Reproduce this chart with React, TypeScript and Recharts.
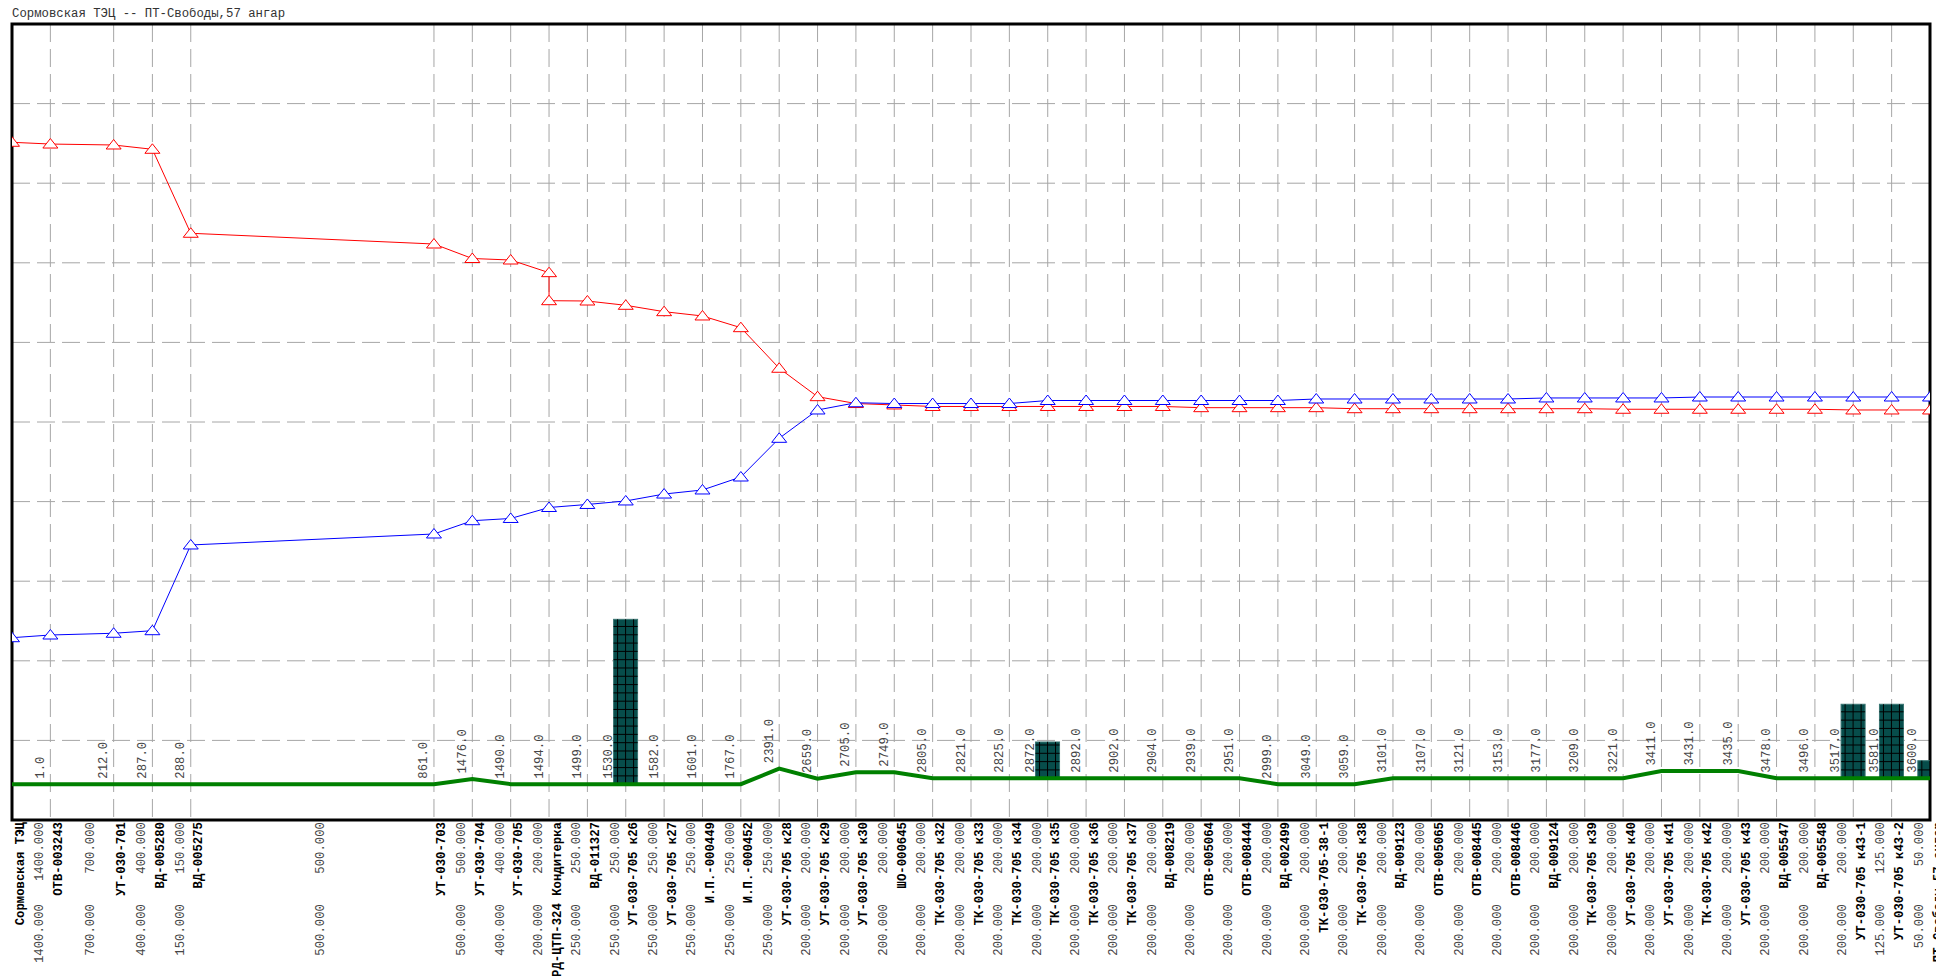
import React from 'react';
import { ComposedChart, Line, Bar, XAxis, YAxis, CartesianGrid, ReferenceArea, LabelList } from 'recharts';

const MONO = '"Liberation Mono", "DejaVu Sans Mono", monospace';
const FS = 12.3;

// узлы трассы (позиция на схеме, не в масштабе длины)
const nodeNames = [
  'Сормовская ТЭЦ', 'ОТВ-003243', 'УТ-030-701', 'ВД-005280', 'ВД-005275',
  'УТ-030-703', 'УТ-030-704', 'УТ-030-705', 'РД-ЦТП-324 Кондитерка', 'ВД-011327',
  'УТ-030-705 к26', 'УТ-030-705 к27', 'И.П.-000449', 'И.П.-000452', 'УТ-030-705 к28',
  'УТ-030-705 к29', 'УТ-030-705 к30', 'ШО-000645', 'ТК-030-705 к32', 'ТК-030-705 к33',
  'ТК-030-705 к34', 'ТК-030-705 к35', 'ТК-030-705 к36', 'ТК-030-705 к37', 'ВД-008219',
  'ОТВ-005064', 'ОТВ-008444', 'ВД-002499', 'ТК-030-705-38-1', 'ТК-030-705 к38',
  'ВД-009123', 'ОТВ-005065', 'ОТВ-008445', 'ОТВ-008446', 'ВД-009124',
  'ТК-030-705 к39', 'УТ-030-705 к40', 'УТ-030-705 к41', 'ТК-030-705 к42', 'УТ-030-705 к43',
  'ВД-005547', 'ВД-005548', 'УТ-030-705 к43-1', 'УТ-030-705 к43-2', 'ПТ-Свободы,57 ангар',
];

const nodePos = [
  0, 1, 2.65, 3.66, 4.66, 11, 12, 13, 14, 15,
  16, 17, 18, 19, 20, 21, 22, 23, 24, 25,
  26, 27, 28, 29, 30, 31, 32, 33, 34, 35,
  36, 37, 38, 39, 40, 41, 42, 43, 44, 45,
  46, 47, 48, 49, 50,
];

const nodeDist: (number | null)[] = [
  null, 1, 212, 287, 288, 861, 1476, 1490, 1494, 1499,
  1530, 1582, 1601, 1767, 2391, 2659, 2705, 2749, 2805, 2821,
  2825, 2872, 2892, 2902, 2904, 2939, 2951, 2999, 3049, 3059,
  3101, 3107, 3121, 3153, 3177, 3209, 3221, 3411, 3431, 3435,
  3478, 3496, 3517, 3581, 3600,
];

// диаметры участков (подача / обратка)
const diameters = [
  1400, 700, 400, 150, 500, 500, 400, 200, 250, 250,
  250, 250, 250, 250, 200, 200, 200, 200, 200, 200,
  200, 200, 200, 200, 200, 200, 200, 200, 200, 200,
  200, 200, 200, 200, 200, 200, 200, 200, 200, 200,
  200, 200, 125, 50,
];

const supplyHead = [
  85.14, 84.92, 84.8, 84.26, 73.71, 72.36, 70.54, 70.35, 68.76, 65.2,
  64.66, 63.86, 63.32, 61.85, 56.75, 53.18, 52.32, 52.14, 51.95, 51.95,
  51.95, 51.95, 51.95, 51.95, 51.95, 51.8, 51.8, 51.8, 51.8, 51.67,
  51.67, 51.67, 51.67, 51.67, 51.67, 51.67, 51.6, 51.6, 51.6, 51.6,
  51.6, 51.6, 51.51, 51.51, 51.51,
];
// дросселирование на регуляторе
const regulatorOut: Record<number, number> = { 8: 65.24 };

const returnHead = [
  22.9, 23.24, 23.46, 23.78, 34.55, 35.93, 37.6, 37.88, 39.26, 39.64,
  40.08, 40.95, 41.46, 43.09, 47.95, 51.51, 52.42, 52.32, 52.32, 52.32,
  52.32, 52.7, 52.7, 52.7, 52.7, 52.7, 52.7, 52.7, 52.89, 52.89,
  52.89, 52.89, 52.89, 52.89, 53.02, 53.02, 53.02, 53.02, 53.14, 53.14,
  53.14, 53.14, 53.14, 53.14, 53.14,
];

const ground = [
  4.5, 4.5, 4.5, 4.5, 4.5, 4.5, 5.15, 4.5, 4.5, 4.5,
  4.5, 4.5, 4.5, 4.5, 6.45, 5.2, 6.0, 6.0, 5.25, 5.25,
  5.25, 5.25, 5.25, 5.25, 5.25, 5.25, 5.25, 4.5, 4.5, 4.5,
  5.25, 5.25, 5.25, 5.25, 5.25, 5.25, 5.25, 6.15, 6.15, 6.15,
  5.25, 5.25, 5.25, 5.25, 5.25,
];

const buildingTop: (number | null)[] = [
  null, null, null, null, null, null, null, null, null, null,
  25.21, null, null, null, null, null, null, null, null, null,
  null, 9.8, null, null, null, null, null, null, null, null,
  null, null, null, null, null, null, null, null, null, null,
  null, null, 14.54, 14.54, 7.45,
];

const yTicks = [0, 10, 20, 30, 40, 50, 60, 70, 80, 90, 100];

const nodeRows = nodePos.map((x, i) => ({
  x,
  ground: ground[i],
  ret: returnHead[i],
  dist: nodeDist[i],
  bld: buildingTop[i] != null ? [ground[i], buildingTop[i]] : null,
}));

const supplyRows: { x: number; sup: number }[] = [];
nodePos.forEach((x, i) => {
  supplyRows.push({ x, sup: supplyHead[i] });
  if (regulatorOut[i] != null) supplyRows.push({ x, sup: regulatorOut[i] });
});

const segMid = diameters.map((_, i) => (nodePos[i] + nodePos[i + 1]) / 2);

const NodeTick = (props: any) => {
  const { x, y, payload } = props;
  const i = nodePos.indexOf(payload.value);
  if (i < 0) return null;
  return (
    <text transform={`translate(${x + 11.5},${y + 2}) rotate(-90)`} textAnchor="end"
      fontFamily={MONO} fontWeight="bold" fontSize={FS} fill="#000">
      {nodeNames[i]}
    </text>
  );
};

// вторая ось лежит на 1px ниже первой
const SegTick = (props: any) => {
  const { x, y, payload } = props;
  const i = segMid.indexOf(payload.value);
  if (i < 0) return null;
  const label = diameters[i].toFixed(3);
  return (
    <g fontFamily={MONO} fontSize={FS} fill="#444">
      <text transform={`translate(${x + 12},${y + 1}) rotate(-90)`} textAnchor="end">{label}</text>
      <text transform={`translate(${x + 12},${y + 83}) rotate(-90)`} textAnchor="end">{label}</text>
    </g>
  );
};

const DistLabel = (props: any) => {
  const { x, y, index } = props;
  const d = nodeDist[index];
  if (d == null) return null;
  const dx = buildingTop[index] != null ? 14 : 6.5;
  return (
    <text transform={`translate(${x - dx},${y - 5.5}) rotate(-90)`} textAnchor="start"
      fontFamily={MONO} fontSize={FS} fill="#444">
      {d.toFixed(1)}
    </text>
  );
};

const triangle = (color: string) => (props: any) => {
  const { cx, cy, index } = props;
  if (cx == null || cy == null) return <g key={`t-${index}`} />;
  return (
    <polygon key={`t-${index}`}
      points={`${cx - 7.5},${cy + 4} ${cx + 7.5},${cy + 4} ${cx},${cy - 5.5}`}
      fill="#fff" stroke={color} strokeWidth={1} />
  );
};

const HatchedBar = (props: any) => {
  const { x, y, width, height } = props;
  if (!width || !height) return null;
  const top = Math.min(y, y + height);
  const h = Math.abs(height);
  const bottom = top + h;
  const lines: React.ReactNode[] = [];
  for (let yy = bottom - 8.3, k = 0; yy > top + 1; yy -= 8.3, k++) {
    lines.push(<line key={`h${k}`} x1={x} x2={x + width} y1={yy} y2={yy} />);
  }
  [4, 12, 20].forEach((f) => {
    const xx = x + (f * width) / 24;
    lines.push(<line key={`v${f}`} x1={xx} x2={xx} y1={top} y2={bottom} />);
  });
  return (
    <g>
      <rect x={x} y={top} width={width} height={h} fill="#074d4b" stroke="#3a7673" strokeWidth={1} />
      <g stroke="#000" strokeWidth={1}>{lines}</g>
    </g>
  );
};

export default function App() {
  return (
    <div style={{ position: 'relative', width: 1936, height: 968 }}>
      <style>{'html { overflow: hidden; } .recharts-wrapper svg { overflow: visible; }'}</style>
      <ComposedChart width={1936} height={968} data={nodeRows}
        margin={{ top: 16, right: 14, bottom: 154, left: 4 }}>
        <CartesianGrid stroke="#a6a6a6" strokeDasharray="18 7" />
        <XAxis type="number" dataKey="x" domain={[0, 50]} ticks={nodePos} interval={0}
          height={1} tickSize={0} tickMargin={0} tickLine={false} axisLine={false}
          tick={NodeTick} allowDataOverflow />
        <XAxis xAxisId="seg" type="number" dataKey="x" domain={[0, 50]} ticks={segMid} interval={0}
          height={1} tickSize={0} tickMargin={0} tickLine={false} axisLine={false}
          tick={SegTick} allowDataOverflow />
        <YAxis hide type="number" domain={[0, 100]} ticks={yTicks} allowDataOverflow />
        <Line dataKey="ground" stroke="#008000" strokeWidth={4} dot={false} activeDot={false}
          isAnimationActive={false}>
          <LabelList dataKey="dist" content={DistLabel} />
        </Line>
        <Bar dataKey="bld" barSize={24} shape={HatchedBar} isAnimationActive={false} />
        <Line data={supplyRows} dataKey="sup" stroke="#ff0000" strokeWidth={1}
          dot={triangle('#ff0000')} activeDot={false} isAnimationActive={false} />
        <Line dataKey="ret" stroke="#0000ff" strokeWidth={1}
          dot={triangle('#0000ff')} activeDot={false} isAnimationActive={false} />
        <ReferenceArea x1={0} x2={50} y1={0} y2={100} fill="none" stroke="#000" strokeWidth={3}
          ifOverflow="visible" />
      </ComposedChart>
      <div style={{ position: 'absolute', left: 4, top: -1, fontFamily: MONO, fontSize: FS,
        color: '#333', whiteSpace: 'pre' }}>
        Сормовская ТЭЦ -- ПТ-Свободы,57 ангар
      </div>
    </div>
  );
}
